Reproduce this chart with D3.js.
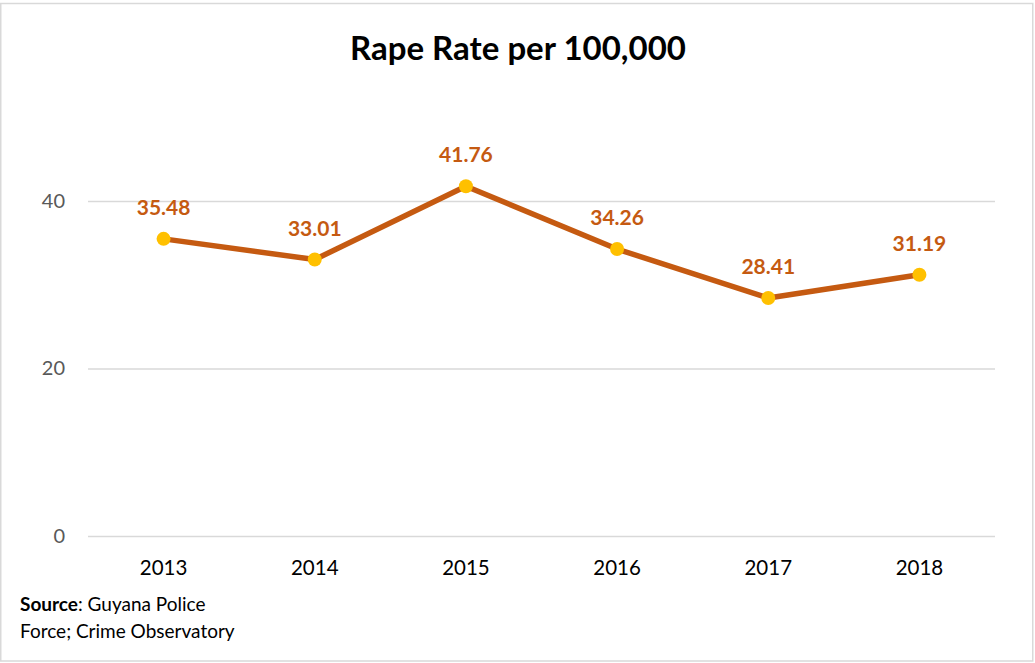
<!DOCTYPE html>
<html><head><meta charset="utf-8">
<script src="https://cdn.jsdelivr.net/npm/d3@7"></script>
<style>body{margin:0;background:#fff;} svg{display:block;font-family:Lato,"Open Sans",sans-serif;}</style>
</head><body><div id="chart"></div>
<script>
const years = ["2013","2014","2015","2016","2017","2018"];
const rates = [35.48, 33.01, 41.76, 34.26, 28.41, 31.19];
const yTicks = [0, 20, 40];
const title = "Rape Rate per 100,000";

const W = 1035, H = 663;
const svg = d3.select("#chart").append("svg").attr("width", W).attr("height", H);
svg.append("rect").attr("x", 0.75).attr("y", 3.5).attr("width", 1032).attr("height", 657.5)
  .attr("fill", "#fff").attr("stroke", "#d9d9d9").attr("stroke-width", 1.5);

const x = d3.scaleBand().domain(years).range([88, 995]);
const y = d3.scaleLinear().domain([0, 50]).range([536, 117.25]);

svg.append("text").attr("x", 518).attr("y", 60).attr("text-anchor", "middle")
  .attr("font-size", 33).attr("font-weight", "bold").attr("fill", "#000").text(title);

const yAxis = svg.append("g").attr("transform", "translate(88,0)")
  .call(d3.axisLeft(y).tickValues(yTicks).tickSize(-(995 - 88)).tickFormat(d3.format("d")).tickPadding(23));
yAxis.select(".domain").remove();
yAxis.selectAll("line").attr("stroke", "#d9d9d9").attr("stroke-width", 1.5);
yAxis.selectAll("text").attr("font-size", 20).attr("fill", "#595959").attr("font-family", "Lato,sans-serif");

const xAxis = svg.append("g").attr("transform", "translate(0,536)")
  .call(d3.axisBottom(x).tickSize(0).tickPadding(24));
xAxis.select(".domain").remove();
xAxis.selectAll("text").attr("font-size", 20.5).attr("fill", "#000").attr("font-family", "Lato,sans-serif");

const cx = d => x(d) + x.bandwidth() / 2;
const data = years.map((yr, i) => ({yr, v: rates[i]}));

svg.append("path").datum(data)
  .attr("d", d3.line().x(d => cx(d.yr)).y(d => y(d.v)))
  .attr("fill", "none").attr("stroke", "#c55a11").attr("stroke-width", 5.5).attr("stroke-linejoin", "round");

svg.selectAll("circle.pt").data(data).enter().append("circle")
  .attr("cx", d => cx(d.yr)).attr("cy", d => y(d.v)).attr("r", 7).attr("fill", "#ffc000");

svg.selectAll("text.lbl").data(data).enter().append("text")
  .attr("x", d => cx(d.yr)).attr("y", d => y(d.v) - 24).attr("text-anchor", "middle")
  .attr("font-size", 21).attr("font-weight", "bold").attr("fill", "#c55a11")
  .text(d => d.v.toFixed(2));

const src = svg.append("text").attr("x", 20).attr("y", 611).attr("font-size", 19).attr("fill", "#000");
src.append("tspan").attr("font-weight", "bold").text("Source");
src.append("tspan").text(": Guyana Police");
svg.append("text").attr("x", 20).attr("y", 638).attr("font-size", 19).attr("fill", "#000").text("Force; Crime Observatory");
</script></body></html>
